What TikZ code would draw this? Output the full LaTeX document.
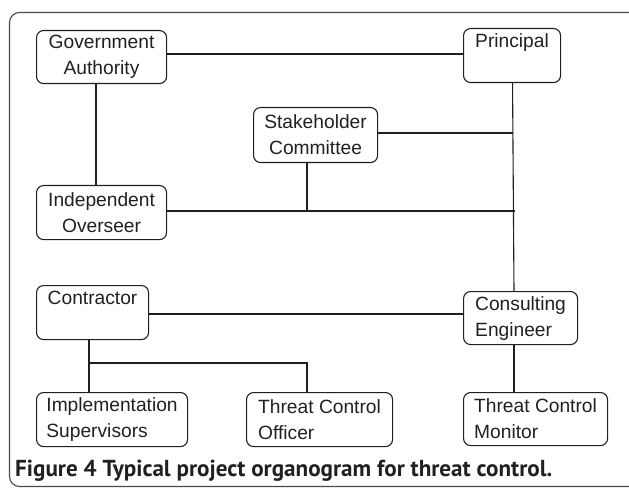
\documentclass[tikz,border=0pt]{standalone}
\usepackage{fontspec}
\setmainfont{Liberation Sans}
\newfontfamily\capfont{PT Sans}
\definecolor{ink}{HTML}{231F20}
\definecolor{frm}{HTML}{4A4A4A}
\begin{document}
\begin{tikzpicture}[x=1pt,y=-1pt,
  orgbox/.style={draw=ink, line width=1.1pt, rounded corners=7pt, anchor=north west,
    inner sep=2pt, font=\fontsize{19.2}{26}\selectfont, text=ink},
  cbox/.style={orgbox, align=center},
  lbox/.style={orgbox, align=left},
  link/.style={draw=ink, line width=1.9pt},
  thinlink/.style={draw=ink, line width=1.1pt}]
\useasboundingbox (0,0) rectangle (629,489);
\begin{scope}
\clip (0,0) rectangle (629,489);
\draw[frm, line width=1.1pt, rounded corners=10pt] (9.5,12.5) rectangle (645,486.5);
\end{scope}
% boxes
\node[cbox, minimum width=130pt, minimum height=53pt] (ga) at (36,30) {Government\\Authority};
\node[lbox, minimum width=97pt, minimum height=54pt] (pr) at (463,28) {Principal\\\phantom{Ay}};
\node[cbox, minimum width=124pt, minimum height=55pt] (sc) at (253,107) {Stakeholder\\Committee};
\node[cbox, minimum width=130pt, minimum height=54pt] (io) at (36,185) {Independent\\Overseer};
\node[lbox, minimum width=112pt, minimum height=54pt] (co) at (36,285) {Contractor\\\phantom{Ay}};
\node[lbox, minimum width=114pt, minimum height=53pt] (ce) at (463,291) {Consulting\\Engineer};
\node[lbox, minimum width=151pt, minimum height=54pt] (is) at (36,392) {Implementation\\Supervisors};
\node[lbox, minimum width=146pt, minimum height=54pt] (tco) at (246,392) {Threat Control\\Officer};
\node[lbox, minimum width=144pt, minimum height=53pt] (tcm) at (463,392) {Threat Control\\Monitor};
% junction / routing coordinates
\coordinate (j0) at (0,54);
\coordinate (j1) at (512.5,133);
\coordinate (j2) at (515,211);
\coordinate (j3) at (0,314);
\coordinate (b) at (89,363);
\coordinate (xga) at (96,0);
\coordinate (xsc) at (307,0);
\coordinate (xce) at (514,0);
% connectors
\draw[link] (ga.east |- j0) -- (pr.west |- j0);
\draw[link] (xga |- ga.south) -- (xga |- io.north);
\draw[thinlink] ([xshift=0.5pt]pr.south) -- (xce |- ce.north);
\draw[link] (sc.east |- j1) -- (j1);
\draw[link] (io.east |- j2) -- (j2);
\draw[link] (xsc |- sc.south) -- (xsc |- j2);
\draw[link] (co.east |- j3) -- (ce.west |- j3);
\draw[link] (b |- co.south) -- (b |- is.north);
\draw[link] (b) -| (xsc |- tco.north);
\draw[link] (xce |- ce.south) -- (xce |- tcm.north);
% caption
\node[anchor=base west, inner sep=0pt, text=ink] (cap) at (15,476)
  {\resizebox{537pt}{!}{\capfont\bfseries Figure 4 Typical project organogram for threat control.}};
\end{tikzpicture}
\end{document}
